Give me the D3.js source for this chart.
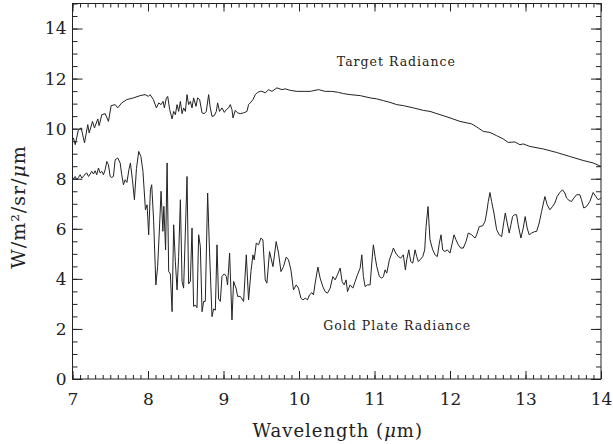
<!DOCTYPE html>
<html><head><meta charset="utf-8">
<script src="https://cdn.jsdelivr.net/npm/d3@7"></script>
<style>body{margin:0;background:#fff}svg{display:block}</style>
</head><body>
<script>
// Target radiance (upper curve)
const targetWl = [7.000,7.013,7.036,7.079,7.115,7.159,7.202,7.221,7.265,7.291,7.335,7.353,7.388,7.433,7.476,7.512,7.565,7.599,7.652,7.718,7.807,7.896,7.962,8.005,8.028,8.071,8.111,8.142,8.173,8.200,8.217,8.243,8.261,8.287,8.319,8.340,8.362,8.385,8.406,8.429,8.451,8.472,8.495,8.517,8.538,8.561,8.583,8.604,8.636,8.657,8.684,8.716,8.746,8.772,8.803,8.825,8.848,8.878,8.905,8.922,8.948,8.980,9.011,9.037,9.067,9.090,9.112,9.126,9.156,9.187,9.222,9.266,9.311,9.332,9.354,9.390,9.421,9.451,9.487,9.509,9.553,9.597,9.642,9.708,9.774,9.817,9.884,9.972,10.082,10.148,10.258,10.347,10.435,10.522,10.589,10.677,10.810,10.942,11.030,11.118,11.206,11.295,11.382,11.515,11.647,11.735,11.868,12.000,12.132,12.287,12.353,12.441,12.529,12.618,12.705,12.771,12.860,12.926,12.970,13.058,13.234,13.411,13.587,13.763,13.896,14.000];
const targetVal = [9.55,9.63,9.36,9.96,10.03,9.43,10.16,9.83,10.29,10.03,10.39,10.12,10.56,10.60,10.29,10.92,10.96,10.83,11.03,11.16,11.23,11.32,11.36,11.29,11.36,11.16,10.83,11.03,10.96,11.09,10.83,11.23,11.29,10.76,10.39,10.69,10.56,10.96,10.69,11.09,10.60,10.83,10.69,11.36,10.96,11.09,10.83,11.23,10.89,11.23,11.16,10.63,10.60,10.69,11.36,10.83,10.49,10.52,10.69,11.03,10.69,10.83,10.65,10.76,10.83,10.96,10.76,10.43,10.73,10.63,10.60,10.63,10.69,10.96,11.03,11.16,11.36,11.45,11.49,11.49,11.43,11.56,11.49,11.63,11.56,11.59,11.53,11.49,11.49,11.49,11.56,11.49,11.49,11.45,11.40,11.36,11.32,11.23,11.19,11.12,11.05,10.96,10.92,10.83,10.73,10.69,10.56,10.43,10.29,10.19,10.07,9.89,9.85,9.72,9.59,9.45,9.47,9.36,9.39,9.29,9.19,9.05,8.89,8.73,8.63,8.49];

// Gold plate radiance (lower curve)
const goldWl = [7.000,7.036,7.057,7.079,7.102,7.123,7.146,7.168,7.189,7.212,7.234,7.255,7.278,7.300,7.321,7.344,7.366,7.388,7.410,7.433,7.454,7.476,7.499,7.520,7.542,7.565,7.599,7.631,7.652,7.675,7.697,7.721,7.747,7.767,7.794,7.820,7.847,7.877,7.906,7.933,7.966,7.988,8.009,8.032,8.049,8.075,8.104,8.128,8.155,8.173,8.197,8.210,8.233,8.253,8.274,8.296,8.319,8.340,8.362,8.385,8.406,8.429,8.451,8.472,8.517,8.538,8.561,8.583,8.604,8.627,8.649,8.671,8.693,8.716,8.737,8.759,8.790,8.816,8.848,8.869,8.892,8.914,8.935,8.958,8.980,9.011,9.037,9.054,9.081,9.112,9.134,9.169,9.187,9.222,9.245,9.266,9.302,9.332,9.364,9.390,9.407,9.434,9.464,9.496,9.522,9.553,9.575,9.610,9.655,9.698,9.729,9.761,9.795,9.831,9.861,9.893,9.927,9.963,9.993,10.025,10.052,10.082,10.112,10.139,10.171,10.192,10.214,10.250,10.280,10.316,10.347,10.377,10.413,10.448,10.479,10.509,10.545,10.571,10.598,10.624,10.642,10.677,10.713,10.743,10.774,10.810,10.832,10.853,10.876,10.906,10.942,10.964,10.985,11.008,11.030,11.065,11.097,11.118,11.140,11.163,11.197,11.229,11.250,11.282,11.316,11.348,11.382,11.409,11.427,11.454,11.480,11.507,11.537,11.559,11.581,11.603,11.639,11.665,11.683,11.709,11.735,11.771,11.802,11.832,11.859,11.881,11.903,11.934,11.964,12.000,12.030,12.053,12.079,12.110,12.142,12.176,12.212,12.242,12.287,12.331,12.353,12.388,12.433,12.463,12.485,12.507,12.529,12.551,12.582,12.618,12.652,12.684,12.714,12.732,12.758,12.784,12.807,12.829,12.851,12.882,12.903,12.939,12.970,12.996,13.022,13.049,13.081,13.124,13.147,13.181,13.213,13.257,13.287,13.323,13.358,13.389,13.419,13.455,13.490,13.521,13.544,13.578,13.610,13.631,13.676,13.720,13.742,13.772,13.808,13.852,13.896,13.931,13.962,14.000];
const goldVal = [7.96,8.09,7.96,8.05,8.16,8.03,8.09,8.19,8.23,8.09,8.19,8.29,8.19,8.32,8.16,8.43,8.23,8.29,8.16,8.36,8.69,8.56,8.09,8.05,8.09,8.76,8.83,8.63,8.16,7.76,7.96,7.85,8.36,8.63,7.96,7.16,8.40,9.09,8.89,8.30,6.76,6.96,5.76,7.56,7.76,6.30,3.76,4.50,6.23,7.50,5.90,6.90,5.16,8.63,4.30,4.20,2.69,6.16,4.70,3.56,4.90,7.16,3.90,3.63,8.09,3.80,3.90,6.03,2.90,2.95,2.85,5.76,5.30,2.69,3.10,3.10,7.43,5.00,2.49,2.80,2.75,5.36,3.20,3.10,4.10,4.20,4.10,3.76,5.03,2.36,3.90,3.60,3.30,3.30,3.20,3.10,4.96,3.16,4.30,4.96,4.76,5.43,5.36,5.63,5.56,3.96,3.83,5.09,4.49,5.49,5.03,4.29,4.49,4.87,4.76,4.36,3.56,3.76,3.63,3.23,3.16,3.23,3.16,3.36,3.45,3.36,3.83,4.47,4.03,3.69,3.49,3.43,3.63,4.09,3.96,4.16,4.43,3.89,3.76,3.96,3.49,3.76,3.63,3.89,4.16,4.43,4.96,4.09,3.69,3.76,3.76,4.63,5.36,4.89,4.49,4.09,4.03,4.09,4.36,4.23,4.76,5.03,5.23,5.03,4.89,4.83,4.96,4.36,4.76,5.16,4.69,4.63,5.16,4.89,4.69,4.76,4.89,5.16,6.09,6.89,5.56,5.16,4.96,4.89,5.43,5.76,5.16,5.09,5.16,5.03,5.43,5.76,5.56,5.36,5.23,5.23,5.49,5.83,5.76,5.63,5.76,6.09,6.12,6.29,6.63,7.09,7.45,7.09,6.63,5.96,5.76,5.69,6.29,6.63,6.23,5.83,6.16,6.49,6.56,6.56,6.16,5.63,6.03,6.49,6.03,5.76,5.83,5.89,5.89,6.23,6.69,7.29,6.96,6.76,6.89,7.03,7.29,7.45,7.56,7.43,7.23,7.13,7.09,7.19,7.36,7.36,7.16,6.83,6.89,7.09,7.45,7.29,7.16,7.23];

const xTicks = [7, 8, 9, 10, 11, 12, 13, 14];
const yTicks = [0, 2, 4, 6, 8, 10, 12, 14];
const xLabel = "Wavelength (";
const yLabel = "W/m²/sr/";
const annotations = [
  {text: "Target Radiance", wl: 11.29, val: 12.5},
  {text: "Gold Plate Radiance", wl: 11.3, val: 1.95}
];

const W = 613, H = 444;
const m = {left: 72.5, right: 601, top: 3.5, bottom: 379};
const x = d3.scaleLinear().domain([7, 14]).range([m.left, m.right]);
const y = d3.scaleLinear().domain([0, 15]).range([m.bottom, m.top]);

const svg = d3.select("body").append("svg").attr("width", W).attr("height", H);
const FONT = "DejaVu Serif";
const INK = "#222";

const line = d3.line().x(d => x(d[0])).y(d => y(d[1]));
svg.append("path").datum(d3.zip(targetWl, targetVal))
  .attr("d", line).attr("fill", "none").attr("stroke", INK).attr("stroke-width", 1);
svg.append("path").datum(d3.zip(goldWl, goldVal))
  .attr("d", line).attr("fill", "none").attr("stroke", INK).attr("stroke-width", 1);

const xMinor = d3.range(7, 14.0001, 0.1).map(v => +v.toFixed(2));
const yMinor = d3.range(0, 15.0001, 0.5);

function style(g) {
  g.select(".domain").remove();
  g.selectAll("line").attr("stroke", INK).attr("stroke-width", 1);
  g.selectAll("text").attr("font-family", FONT).attr("font-size", 17).attr("fill", INK);
}
// bottom
svg.append("g").attr("transform", `translate(0,${m.bottom})`)
  .call(d3.axisBottom(x).tickValues(xMinor).tickSize(-4).tickFormat("")).call(style);
svg.append("g").attr("transform", `translate(0,${m.bottom})`)
  .call(d3.axisBottom(x).tickValues(xTicks).tickSize(-8).tickPadding(14).tickFormat(d3.format("d"))).call(style);
// top
svg.append("g").attr("transform", `translate(0,${m.top})`)
  .call(d3.axisTop(x).tickValues(xMinor).tickSize(-4).tickFormat("")).call(style);
svg.append("g").attr("transform", `translate(0,${m.top})`)
  .call(d3.axisTop(x).tickValues(xTicks).tickSize(-8).tickFormat("")).call(style);
// left
svg.append("g").attr("transform", `translate(${m.left},0)`)
  .call(d3.axisLeft(y).tickValues(yMinor).tickSize(-5).tickFormat("")).call(style);
svg.append("g").attr("transform", `translate(${m.left},0)`)
  .call(d3.axisLeft(y).tickValues(yTicks).tickSize(-10).tickPadding(6).tickFormat(d3.format("d"))).call(style);
// right
svg.append("g").attr("transform", `translate(${m.right},0)`)
  .call(d3.axisRight(y).tickValues(yMinor).tickSize(-5).tickFormat("")).call(style);
svg.append("g").attr("transform", `translate(${m.right},0)`)
  .call(d3.axisRight(y).tickValues(yTicks).tickSize(-10).tickFormat("")).call(style);

// frame
svg.append("rect").attr("x", m.left).attr("y", m.top)
  .attr("width", m.right - m.left).attr("height", m.bottom - m.top)
  .attr("fill", "none").attr("stroke", INK).attr("stroke-width", 1);

// x axis title
const xt = svg.append("text").attr("x", (m.left + m.right) / 2 + 1).attr("y", 437)
  .attr("text-anchor", "middle").attr("font-family", FONT).attr("font-size", 18)
  .attr("fill", INK).attr("letter-spacing", 1);
xt.append("tspan").text(xLabel);
xt.append("tspan").attr("font-style", "italic").text("μ");
xt.append("tspan").text("m)");

// y axis title
const yt = svg.append("text").attr("transform", "translate(25,207) rotate(-90)")
  .attr("text-anchor", "middle").attr("font-family", FONT).attr("font-size", 19)
  .attr("fill", INK).attr("letter-spacing", 1);
yt.append("tspan").text(yLabel);
yt.append("tspan").attr("font-style", "italic").text("μ");
yt.append("tspan").text("m");

// annotations
svg.selectAll("text.ann").data(annotations).join("text").attr("class", "ann")
  .attr("x", d => x(d.wl)).attr("y", d => y(d.val))
  .attr("text-anchor", "middle").attr("font-family", FONT).attr("font-size", 12.5)
  .attr("fill", INK).attr("letter-spacing", 1)
  .text(d => d.text);
</script>
</body></html>
